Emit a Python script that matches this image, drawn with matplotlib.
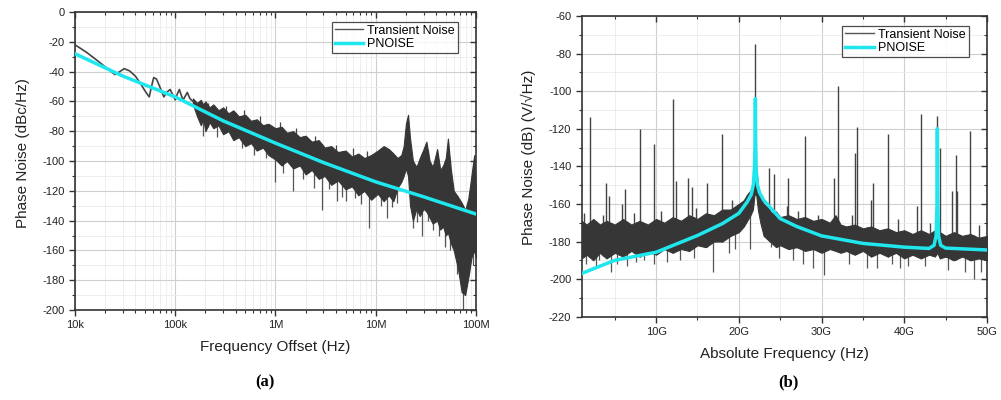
import numpy as np
import matplotlib.pyplot as plt
from matplotlib.lines import Line2D, TICKDOWN, TICKLEFT
from matplotlib.ticker import MultipleLocator, LogLocator, NullFormatter

plt.rcParams['font.family'] = ['Liberation Sans', 'DejaVu Sans']
plt.rcParams['axes.unicode_minus'] = False

NOISE_C = '#363636'
SPIKE_C = '#555555'
PN_C = '#20e6ee'

# ---- (a) phase noise vs offset frequency ----
# low-offset part of the transient result (clean trace)
a_lf_freq = [1e4, 1.3e4, 1.7e4, 2.1e4, 2.5e4, 2.8e4, 3.1e4, 3.5e4, 4.0e4, 4.5e4,
             5.0e4, 5.5e4, 5.8e4, 6.1e4, 6.5e4, 7.0e4, 7.7e4, 8.2e4, 8.9e4, 9.5e4,
             1.0e5, 1.05e5, 1.1e5, 1.15e5, 1.2e5, 1.27e5, 1.32e5, 1.4e5, 1.5e5]
a_lf_val = [-22, -27, -33, -38, -42, -40, -38, -39.5, -43, -48,
            -53, -57, -50, -44, -45, -50, -57, -54, -52, -56,
            -59, -55, -52, -56, -59, -56, -54, -58, -60]

# noisy part: upper / lower envelope of the trace
a_band_freq = [1.5e5, 1.65e5, 1.8e5, 1.9e5, 2.0e5, 2.2e5, 2.4e5, 2.7e5, 3.0e5, 3.4e5,
               3.8e5, 4.3e5, 5.0e5, 5.7e5, 6.5e5, 7.5e5, 8.5e5, 1.0e6, 1.15e6, 1.3e6,
               1.5e6, 1.75e6, 2.0e6, 2.3e6, 2.7e6, 3.1e6, 3.6e6, 4.2e6, 5.0e6, 5.8e6,
               6.7e6, 7.7e6, 9.0e6, 1.05e7, 1.2e7, 1.35e7, 1.5e7, 1.65e7, 1.8e7, 1.9e7,
               2.0e7, 2.1e7, 2.2e7, 2.35e7, 2.55e7, 2.75e7, 3.0e7, 3.2e7, 3.45e7, 3.7e7,
               4.1e7, 4.4e7, 4.7e7, 5.0e7, 5.25e7, 5.6e7, 6.0e7, 6.6e7, 7.2e7, 7.8e7,
               8.4e7, 9.0e7, 9.6e7, 1.0e8]
a_band_hi = [-58, -61, -59, -62, -60, -64, -62, -66, -64, -68,
             -66, -70, -69, -73, -72, -76, -75, -78, -77, -81,
             -80, -84, -83, -87, -86, -91, -90, -94, -93, -97,
             -95, -98, -96, -93, -90, -92, -95, -98, -96, -90,
             -75, -69, -85, -100, -104, -98, -92, -87, -100, -104,
             -92, -106, -103, -98, -85, -105, -120, -124, -128, -133,
             -125, -110, -96, -120]
a_band_lo = [-62, -70, -76, -72, -80, -74, -78, -76, -82, -80,
             -86, -84, -90, -88, -93, -91, -96, -99, -103, -100,
             -105, -103, -109, -106, -112, -110, -116, -113, -119, -117,
             -123, -120, -126, -122, -127, -123, -127, -118, -114, -110,
             -105, -110, -130, -140, -132, -137, -132, -134, -138, -142,
             -140, -146, -144, -150, -148, -155, -160, -172, -188, -190,
             -178, -165, -160, -165]

# isolated dips below the noise floor
a_dip_freq = [1.9e5, 2.6e5, 4.6e5, 6.1e5, 8.0e5, 1.0e6, 1.2e6, 1.5e6, 1.9e6, 2.4e6,
              2.9e6, 3.4e6, 4.1e6, 4.6e6, 5.1e6, 6.2e6, 7.2e6, 8.5e6, 1.13e7, 1.3e7,
              1.45e7, 1.62e7, 2.35e7, 2.6e7, 2.87e7, 3.3e7, 3.75e7, 4.3e7, 4.88e7,
              5.5e7, 6.4e7, 7.35e7, 8.5e7, 9.3e7]
a_dip_val = [-83, -84, -91, -96, -98, -114, -108, -120, -112, -118,
             -133, -119, -127, -124, -127, -125, -129, -145, -130, -138,
             -131, -128, -145, -141, -150, -140, -146, -150, -158,
             -160, -176, -200, -176, -170]

# short spikes poking above the noise floor
a_spur_freq = [2.1e5, 3.2e5, 4.8e5, 7.0e5, 1.1e6, 1.6e6, 2.5e6, 4.0e6, 6.0e6, 8.2e6]
a_spur_val = [-61, -63, -66, -70, -74, -78, -83, -89, -91, -93]

a_pn_freq = [1e4, 3e4, 1e5, 3e5, 1e6, 3e6, 1e7, 3e7, 1e8]
a_pn_val = [-28, -43, -57, -73, -88, -101, -114, -124, -135.6]

# ---- (b) spectrum vs absolute frequency (GHz) ----
b_band_freq = [1, 1.6, 2.4, 3.2, 4.0, 5.0, 6.0, 7.0, 8.0, 9.0,
               10, 11, 12, 13, 14, 15, 16, 17, 18, 19,
               20, 20.6, 21, 21.4, 21.7, 21.9, 22.1, 22.3, 22.6, 23,
               23.5, 24, 24.5, 25, 26, 27, 28, 29, 30, 31,
               31.7, 32.3, 33, 34, 35, 36, 37, 38, 39, 40,
               41, 42, 43, 43.7, 44, 44.3, 45, 46, 47, 48,
               49, 50]
b_band_hi = [-169, -171, -168, -171, -169, -171, -168, -171, -169, -171,
             -168, -170, -167, -169, -166, -168, -165, -166, -163, -163,
             -160, -158, -155, -153, -149, -140, -140, -150, -156, -160,
             -162, -165, -164, -167, -166, -168, -167, -169, -168, -170,
             -166, -171, -172, -171, -173, -172, -174, -173, -175, -174,
             -176, -174, -176, -174, -170, -175, -177, -175, -177, -176,
             -178, -177]
b_band_lo = [-189, -187, -190, -186, -189, -186, -188, -185, -188, -185,
             -187, -184, -186, -184, -185, -182, -183, -180, -180, -177,
             -175, -172, -169, -166, -163, -155, -155, -163, -170, -177,
             -179, -181, -183, -182, -184, -183, -185, -184, -186, -184,
             -185, -186, -185, -187, -185, -188, -186, -188, -186, -189,
             -187, -189, -187, -188, -186, -189, -188, -190, -188, -190,
             -189, -190]

b_spur_freq = [2.0, 4.0, 4.3, 5.9, 6.2, 8.0, 9.7, 12.0, 12.4, 13.9, 14.3, 16.1, 18.0,
               22.0, 23.7, 24.2, 25.8, 26.0, 28.0, 31.5, 32.0, 34.0, 34.3, 36.0,
               36.2, 38.0, 41.5, 42.0, 44.0, 44.3, 45.8, 46.2, 46.4, 48.0,
               1.3, 3.6, 7.3, 10.6, 14.8, 19.2, 27.2, 29.6, 33.7, 39.2, 43.1, 49.0]
b_spur_val = [-114, -149, -156, -160, -152, -120, -128, -104, -148, -146, -151, -149,
              -123, -75, -141, -144, -161, -146, -124, -146, -97, -133, -119, -158,
              -149, -123, -161, -112, -113, -130, -153, -134, -153, -121,
              -165, -166, -165, -164, -162, -158, -164, -166, -166, -168, -170, -171]

b_dip_freq = [1.5, 2.7, 3.1, 4.5, 5.3, 6.5, 7.6, 8.5, 9.7, 11.3, 12.9, 14.6, 16.9,
              18.8, 19.5, 21.4, 23.9, 24.8, 26.5, 27.8, 29.0, 30.3, 33.3, 35.5, 36.7,
              38.5, 39.5, 40.5, 42.5, 45.3, 47.4, 48.4, 49.3]
b_dip_val = [-192, -193, -190, -196, -192, -193, -191, -190, -192, -191, -190, -189,
             -196, -186, -184, -184, -183, -189, -190, -192, -194, -198, -192, -194,
             -194, -192, -194, -193, -193, -195, -196, -200, -196]

b_pn_freq = [1, 5, 10, 15, 18, 20, 21, 21.5, 21.75, 21.9, 21.97, 22.0, 22.03, 22.1,
             22.25, 22.5, 23, 25, 27, 30, 35, 40, 43, 43.6, 43.85, 43.96, 44.0, 44.04,
             44.15, 44.4, 45, 50]
b_pn_val = [-197, -190, -185.7, -176.8, -170.5, -165, -159, -155, -150, -140, -125,
            -104, -125, -142, -150, -154, -158, -167.8, -172, -177, -181, -183, -183.7,
            -182, -177, -160, -120, -160, -177, -182, -183.5, -184.5]


fig = plt.figure(figsize=(10.01, 4.0), dpi=100)
ax1 = fig.add_axes([0.0749, 0.225, 0.4006, 0.745])
ax2 = fig.add_axes([0.5811, 0.2083, 0.4049, 0.7517])


def style_axes(ax):
    ax.grid(True, which='major', color='#cfcfcf', lw=0.8, zorder=0)
    ax.grid(True, which='minor', color='#ebebeb', lw=0.6, zorder=0)
    ax.set_axisbelow(True)
    for s in ax.spines.values():
        s.set_color('#333333')
        s.set_linewidth(1.2)
    ax.tick_params(which='both', direction='out', colors='#333333', labelsize=8,
                   labelcolor='#222222', top=True, right=True)
    ax.tick_params(which='major', length=4, width=1)
    ax.tick_params(which='minor', length=2.5, width=0.8)
    # ticks on the top and right edges point into the plot
    nx_maj = len(ax.xaxis.get_majorticklocs())
    nx_min = len(ax.xaxis.get_minorticklocs())
    ny_maj = len(ax.yaxis.get_majorticklocs())
    ny_min = len(ax.yaxis.get_minorticklocs())
    for t in ax.xaxis.get_major_ticks(nx_maj) + ax.xaxis.get_minor_ticks(nx_min):
        t.tick2line.set_marker(TICKDOWN)
    for t in ax.yaxis.get_major_ticks(ny_maj) + ax.yaxis.get_minor_ticks(ny_min):
        t.tick2line.set_marker(TICKLEFT)


def legend(ax):
    h = [Line2D([], [], color=SPIKE_C, lw=1.0),
         Line2D([], [], color=PN_C, lw=2.5)]
    lg = ax.legend(h, ['Transient Noise', 'PNOISE'], loc='upper right',
                   bbox_to_anchor=(0.955, 0.968), fontsize=9, frameon=True,
                   fancybox=False, borderpad=0.25, handlelength=2.3,
                   handletextpad=0.3, labelspacing=0.1, borderaxespad=0)
    lg.get_frame().set_edgecolor('#222222')
    lg.get_frame().set_linewidth(0.9)
    lg.set_zorder(6)


# (a)
ax1.set_xscale('log')
band_top = np.interp(np.log10(a_dip_freq), np.log10(a_band_freq), a_band_hi)
ax1.vlines(a_dip_freq, a_dip_val, band_top, color=SPIKE_C, lw=0.9, zorder=2)
band_bot = np.interp(np.log10(a_spur_freq), np.log10(a_band_freq), a_band_lo)
ax1.vlines(a_spur_freq, band_bot, a_spur_val, color='#444444', lw=0.9, zorder=2)
ax1.fill_between(a_band_freq, a_band_lo, a_band_hi, color=NOISE_C, lw=0.8,
                 edgecolor=NOISE_C, zorder=3)
ax1.plot(a_lf_freq, a_lf_val, color='#444444', lw=1.2, zorder=3)
ax1.plot(a_pn_freq, a_pn_val, color=PN_C, lw=2.5, zorder=4)
ax1.set_xlim(1e4, 1e8)
ax1.set_ylim(-200, 0)
ax1.set_xticks([1e4, 1e5, 1e6, 1e7, 1e8], ['10k', '100k', '1M', '10M', '100M'])
ax1.xaxis.set_minor_locator(LogLocator(base=10, subs=np.arange(2, 10)))
ax1.xaxis.set_minor_formatter(NullFormatter())
ax1.yaxis.set_major_locator(MultipleLocator(20))
ax1.yaxis.set_minor_locator(MultipleLocator(10))
style_axes(ax1)
ax1.set_xlabel('Frequency Offset (Hz)', fontsize=11, color='#222222', labelpad=7)
ax1.set_ylabel('Phase Noise (dBc/Hz)', fontsize=11, color='#222222', labelpad=9,
               y=0.527)
legend(ax1)

# (b)
b_f = np.array(b_band_freq) * 1e9
ax2.fill_between(b_f, b_band_lo, b_band_hi, color=NOISE_C, lw=0.8,
                 edgecolor=NOISE_C, zorder=3)
spur_base = np.interp(b_spur_freq, b_band_freq, b_band_lo)
ax2.vlines(np.array(b_spur_freq) * 1e9, spur_base, b_spur_val, color='#444444',
           lw=1.0, zorder=2.5)
dip_base = np.interp(b_dip_freq, b_band_freq, b_band_hi)
ax2.vlines(np.array(b_dip_freq) * 1e9, b_dip_val, dip_base, color=SPIKE_C,
           lw=0.9, zorder=2.5)
ax2.plot(np.array(b_pn_freq) * 1e9, b_pn_val, color=PN_C, lw=2.5, zorder=4)
ax2.set_xlim(1e9, 50e9)
ax2.set_ylim(-220, -60)
ax2.set_xticks([10e9, 20e9, 30e9, 40e9, 50e9], ['10G', '20G', '30G', '40G', '50G'])
ax2.xaxis.set_minor_locator(MultipleLocator(5e9))
ax2.yaxis.set_major_locator(MultipleLocator(20))
ax2.yaxis.set_minor_locator(MultipleLocator(10))
style_axes(ax2)
ax2.set_xlabel('Absolute Frequency (Hz)', fontsize=11, color='#222222', labelpad=7)
ax2.set_ylabel('Phase Noise (dB) (V/\u221aHz)', fontsize=11, color='#222222',
               labelpad=9, y=0.529)
legend(ax2)

fig.text(0.265, 0.043, '(a)', ha='center', va='center', fontsize=12,
         fontweight='bold', family='Liberation Serif')
fig.text(0.788, 0.043, '(b)', ha='center', va='center', fontsize=12,
         fontweight='bold', family='Liberation Serif')

fig.savefig('out.png', dpi=100)
